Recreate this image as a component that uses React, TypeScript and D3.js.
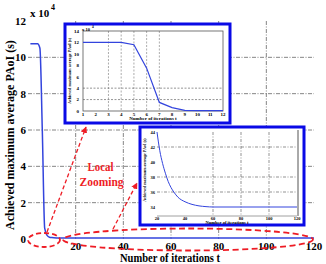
import React from 'react';
import * as d3 from 'd3';

// Main curve (values in units of 10^4 s)
const mainT = [1, 2, 3, 4, 5, 6, 7, 8, 9, 10, 12, 15, 20, 40, 60, 80, 100, 120];
const mainV = [10.75, 10.75, 10.75, 10.75, 10.5, 6.0, 0.6, 0.2, 0.1, 0.08, 0.06, 0.05, 0.05, 0.05, 0.05, 0.05, 0.05, 0.05];
const mainXTicks = [20, 40, 60, 80, 100, 120];
const mainYTicks = [0, 2, 4, 6, 8, 10, 12];
const mainXGrid = [20, 40, 60, 80, 100];
const mainYGrid = [2, 4, 6, 8, 10];

// Zoom inset 1 (iterations 1..12)
const z1T = [1, 2, 3, 4, 5, 6, 7, 8, 9, 10, 11, 12];
const z1V = [12, 12, 12, 12, 11.6, 7.5, 1.5, 0.6, 0.1, 0.05, 0.05, 0.05];
const z1XTicks = [1, 2, 3, 4, 5, 6, 7, 8, 9, 10, 11, 12];
const z1YTicks = [0, 2, 4, 6, 8, 10, 12, 14];
const z1XGrid = [3, 4, 5, 6, 7];
const z1YGrid = [2, 4];

// Zoom inset 2 (iterations 20..120)
const z2T = [20, 22, 24, 26, 28, 30, 32, 35, 40, 45, 50, 55, 60, 80, 100, 120];
const z2V = [44, 41.5, 39.8, 38.5, 37.4, 36.6, 36.0, 35.3, 34.7, 34.35, 34.15, 34.05, 34.0, 34.0, 34.0, 34.0];
const z2XTicks = [20, 40, 60, 80, 100, 120];
const z2YTicks = [34, 36, 38, 40, 42, 44];
const z2XGrid = [60, 80, 100];
const z2YGrid = [36, 38, 42];

const SERIF = '"Liberation Serif", "DejaVu Serif", serif';
const BLUE = '#3344dd';
const BORDER = '#0a0ae6';
const RED = '#ee1c25';
const GRID = '#666';

export default function App() {
  const x = d3.scaleLinear().domain([0, 120]).range([28, 314]);
  const y = d3.scaleLinear().domain([0, 12]).range([239, 21]);
  const mainLine = d3.line<number>().x((d, i) => x(mainT[i])).y(d => y(d)).curve(d3.curveMonotoneX);

  const x1 = d3.scaleLinear().domain([1, 12]).range([83, 223]);
  const y1 = d3.scaleLinear().domain([0, 14]).range([111, 31]);
  const line1 = d3.line<number>().x((d, i) => x1(z1T[i])).y(d => y1(d));

  const x2 = d3.scaleLinear().domain([20, 120]).range([157, 297]);
  const y2 = d3.scaleLinear().domain([34, 44]).range([207, 132]);
  const line2 = d3.line<number>().x((d, i) => x2(z2T[i])).y(d => y2(d)).curve(d3.curveMonotoneX);
  const y2Bottom = y2(32.8);

  return (
    <svg width={326} height={264} style={{ position: 'fixed', left: 0, top: 0, background: '#fff' }} fontFamily={SERIF}>
      <defs>
        <marker id="arr" viewBox="0 0 10 10" refX="9" refY="5" markerWidth="5" markerHeight="5" orient="auto">
          <path d="M0,0 L10,5 L0,10 z" fill={RED} />
        </marker>
      </defs>
      <rect width={326} height={264} fill="#fff" />
      {/* main grid */}
      {mainXGrid.map(t => (
        <line key={'gx' + t} x1={x(t)} x2={x(t)} y1={y(12)} y2={y(0)} stroke={GRID} strokeWidth={0.8} strokeDasharray="4,1.5,1,1.5" />
      ))}
      {mainYGrid.map(v => (
        <line key={'gy' + v} x1={x(0)} x2={x(120)} y1={y(v)} y2={y(v)} stroke={GRID} strokeWidth={0.8} strokeDasharray="4,1.5,1,1.5" />
      ))}
      {/* main curve */}
      <path d={mainLine(mainV) || ''} fill="none" stroke={BLUE} strokeWidth={1.5} />
      {/* main ticks */}
      {mainYTicks.map(v => (
        <text key={'yt' + v} x={26} y={y(v) + 4} textAnchor="end" fontSize={11} fontWeight="bold">{v}</text>
      ))}
      {mainXTicks.map(t => (
        <text key={'xt' + t} x={x(t)} y={250} textAnchor="middle" fontSize={11} fontWeight="bold">{t}</text>
      ))}
      <text x={30} y={17} fontSize={11} fontWeight="bold">x 10</text>
      <text x={51} y={10} fontSize={8} fontWeight="bold">4</text>
      <text transform="translate(14,135) rotate(-90)" textAnchor="middle" fontSize={12} fontWeight="bold">Achieved maximum average PAoI (s)</text>
      <text x={170} y={262} textAnchor="middle" fontSize={12} fontWeight="bold" textLength={100} lengthAdjust="spacingAndGlyphs">Number of iterations t</text>

      {/* inset 1 */}
      <rect x={65} y={24} width={165} height={99} fill="#fff" stroke={BORDER} strokeWidth={3} />
      {z1XGrid.map(t => (
        <line key={'z1gx' + t} x1={x1(t)} x2={x1(t)} y1={y1(14)} y2={y1(0)} stroke="#888" strokeWidth={0.7} strokeDasharray="2,1.5" />
      ))}
      {z1YGrid.map(v => (
        <line key={'z1gy' + v} x1={x1(1)} x2={x1(12)} y1={y1(v)} y2={y1(v)} stroke="#666" strokeWidth={0.7} strokeDasharray="2,1.5" />
      ))}
      <rect x={x1(1)} y={y1(14)} width={x1(12) - x1(1)} height={y1(0) - y1(14)} fill="none" stroke="#555" strokeWidth={0.8} />
      <path d={line1(z1V) || ''} fill="none" stroke={BLUE} strokeWidth={1.2} />
      {z1YTicks.map(v => (
        <text key={'z1yt' + v} x={79} y={y1(v) + 1.8} textAnchor="end" fontSize={5} fontWeight="bold">{v}</text>
      ))}
      {z1XTicks.map(t => (
        <text key={'z1xt' + t} x={x1(t)} y={116} textAnchor="middle" fontSize={5} fontWeight="bold">{t}</text>
      ))}
      <text x={82} y={31} fontSize={4.5} fontWeight="bold">x 10</text>
      <text x={92} y={28} fontSize={3.5} fontWeight="bold">4</text>
      <text x={153} y={120} textAnchor="middle" fontSize={5} fontWeight="bold">Number of iterations t</text>
      <text transform="translate(71,71) rotate(-90)" textAnchor="middle" fontSize={4.2} fontWeight="bold">Achieved maximum average PAoI (s)</text>

      {/* inset 2 */}
      <rect x={140} y={127} width={164} height={98} fill="#fff" stroke={BORDER} strokeWidth={3} />
      {z2XGrid.map(t => (
        <line key={'z2gx' + t} x1={x2(t)} x2={x2(t)} y1={y2(44)} y2={y2Bottom} stroke="#666" strokeWidth={0.7} strokeDasharray="3,1.5,1,1.5" />
      ))}
      {z2YGrid.map(v => (
        <line key={'z2gy' + v} x1={x2(20)} x2={x2(120)} y1={y2(v)} y2={y2(v)} stroke="#666" strokeWidth={0.7} strokeDasharray="3,1.5,1,1.5" />
      ))}
      <line x1={x2(20)} x2={x2(120)} y1={y2Bottom} y2={y2Bottom} stroke="#888" strokeWidth={0.8} />
      <line x1={x2(120) + 1} x2={x2(120) + 1} y1={y2(44) - 2} y2={y2Bottom} stroke="#555" strokeWidth={1} />
      <path d={line2(z2V) || ''} fill="none" stroke={BLUE} strokeWidth={1} />
      {z2YTicks.map(v => (
        <text key={'z2yt' + v} x={155} y={y2(v) + 1.8} textAnchor="end" fontSize={4.5} fontWeight="bold">{v}</text>
      ))}
      {z2XTicks.map(t => (
        <text key={'z2xt' + t} x={x2(t)} y={220} textAnchor="middle" fontSize={4.5} fontWeight="bold">{t}</text>
      ))}
      <text x={227} y={224} textAnchor="middle" fontSize={4.5} fontWeight="bold">Number of iterations t</text>
      <text transform="translate(146,170) rotate(-90)" textAnchor="middle" fontSize={4} fontWeight="bold">Achieved maximum average PAoI (s)</text>

      {/* red annotations */}
      <ellipse cx={44} cy={240} rx={16} ry={7} fill="none" stroke={RED} strokeWidth={1.8} strokeDasharray="5,3" />
      <ellipse cx={188} cy={239.5} rx={125} ry={11} fill="none" stroke={RED} strokeWidth={1.8} strokeDasharray="6,3.5" />
      <line x1={47} y1={232} x2={86} y2={127} stroke={RED} strokeWidth={1.3} strokeDasharray="4,2.5" markerEnd="url(#arr)" />
      <line x1={113} y1={229} x2={137} y2={183} stroke={RED} strokeWidth={1.3} strokeDasharray="4,2.5" markerEnd="url(#arr)" />
      <text x={100.5} y={171} textAnchor="middle" fontSize={13} fontWeight="bold" fill={RED} textLength={26} lengthAdjust="spacingAndGlyphs">Local</text>
      <text x={101.5} y={186} textAnchor="middle" fontSize={13} fontWeight="bold" fill={RED} textLength={44} lengthAdjust="spacingAndGlyphs">Zooming</text>
    </svg>
  );
}
